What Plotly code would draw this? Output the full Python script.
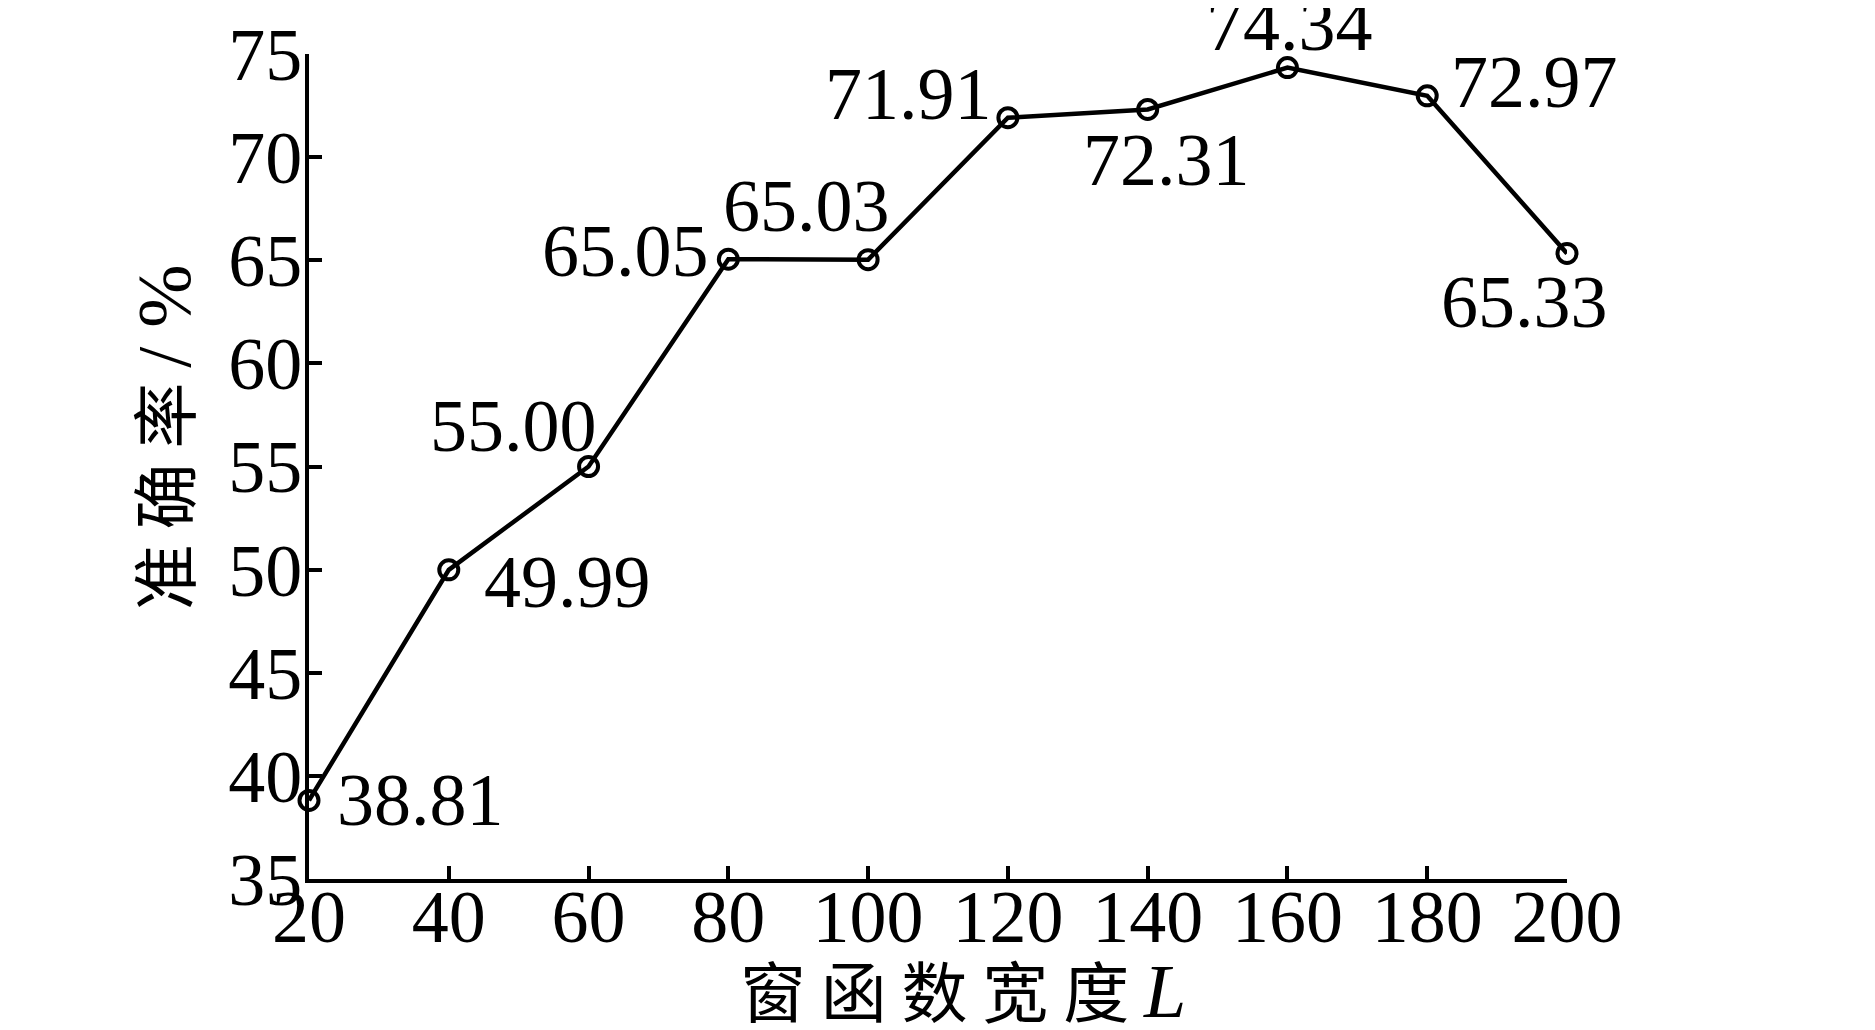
import plotly.graph_objects as go

window_width = [20, 40, 60, 80, 100, 120, 140, 160, 180, 200]
accuracy = [38.81, 49.99, 55.00, 65.05, 65.03, 71.91, 72.31, 74.34, 72.97, 65.33]
labels = ["38.81", "49.99", "55.00", "65.05", "65.03", "71.91", "72.31", "74.34", "72.97", "65.33"]
y_ticks = [35, 40, 45, 50, 55, 60, 65, 70, 75]
x_ticks = [20, 40, 60, 80, 100, 120, 140, 160, 180, 200]

# label placement (anchor, xshift, yshift) in pixels
placement = [
    ("left", 26, 0),
    ("left", 33, -12),
    ("right", 10, 41),
    ("right", -17, 8),
    ("center", -62, 54),
    ("right", -14, 24),
    ("center", 19, -51),
    ("center", 2, 43),
    ("left", 22, 14),
    ("center", -43, -49),
]

SERIF = "Liberation Serif, Times New Roman, serif"
CJK = "Noto Sans CJK SC"

fig = go.Figure()
fig.add_trace(go.Scatter(
    x=window_width, y=accuracy, mode="lines+markers",
    line=dict(color="black", width=4.5),
    marker=dict(symbol="circle-open", size=19, color="black", line=dict(width=4, color="black")),
    cliponaxis=False, showlegend=False,
))

for xv, yv, txt, (anc, dx, dy) in zip(window_width, accuracy, labels, placement):
    fig.add_annotation(x=xv, y=yv, xref="x", yref="y", text=txt, showarrow=False,
                       xanchor=anc, yanchor="middle", xshift=dx, yshift=dy,
                       font=dict(family=SERIF, size=74, color="black"))

# axis titles
fig.add_annotation(x=0.52, y=-0.132, xref="paper", yref="paper", showarrow=False,
                   xanchor="center", yanchor="middle",
                   text="窗 函 数 宽 度 <i><span style='font-family:Liberation Serif;font-size:76px'>L</span></i>",
                   font=dict(family=CJK, size=66, color="black"))
fig.add_annotation(x=-0.118, y=0.535, xref="paper", yref="paper", showarrow=False,
                   xanchor="center", yanchor="middle", textangle=-90,
                   text="准 确 率 <span style='font-family:Liberation Serif;font-size:76px'>/ %</span>",
                   font=dict(family=CJK, size=66, color="black"))

fig.update_layout(
    width=1867, height=1022,
    margin=dict(l=301, r=308, t=46, b=151),
    plot_bgcolor="white", paper_bgcolor="white",
    font=dict(family=SERIF, size=72, color="black"),
)
fig.update_xaxes(
    range=[20, 200], tickvals=x_ticks, ticktext=[str(v) for v in x_ticks],
    showline=True, linecolor="black", linewidth=4, showgrid=False, zeroline=False,
    ticks="inside", ticklen=13, tickwidth=4, tickcolor="black",
    tickfont=dict(family=SERIF, size=74), ticklabelstandoff=-30, automargin=False,
)
fig.update_yaxes(
    range=[35, 75], tickvals=y_ticks, ticktext=[str(v) for v in y_ticks],
    showline=True, linecolor="black", linewidth=4, showgrid=False, zeroline=False,
    ticks="inside", ticklen=13, tickwidth=4, tickcolor="black",
    tickfont=dict(family=SERIF, size=74), ticklabelstandoff=-12, automargin=False,
)

fig.write_html("out.html")
